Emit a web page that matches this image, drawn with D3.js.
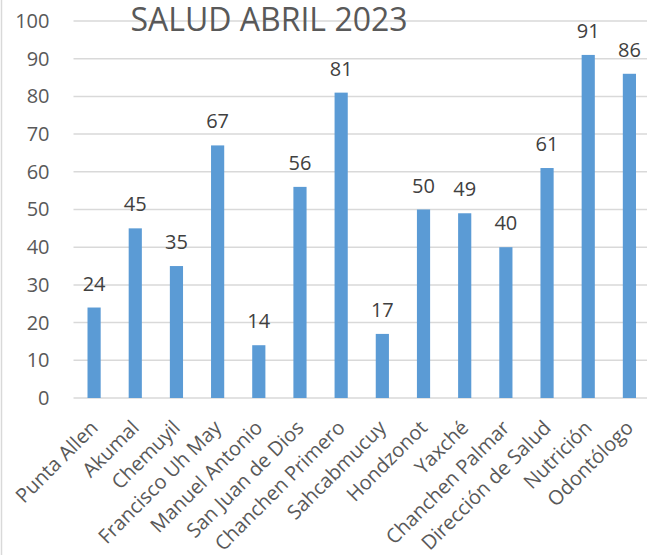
<!DOCTYPE html>
<html>
<head>
<meta charset="utf-8">
<script src="https://cdn.jsdelivr.net/npm/d3@7"></script>
<style>
  body { margin: 0; background: #fff; }
  text { font-family: "Open Sans", sans-serif; }
</style>
</head>
<body>
<div id="chart"></div>
<script>
"use strict";
const categories = ["Punta Allen", "Akumal", "Chemuyil", "Francisco Uh May", "Manuel Antonio",
  "San Juan de Dios", "Chanchen Primero", "Sahcabmucuy", "Hondzonot", "Yaxché",
  "Chanchen Palmar", "Dirección de Salud", "Nutrición", "Odontólogo"];
const values = [24, 45, 35, 67, 14, 56, 81, 17, 50, 49, 40, 61, 91, 86];
const yTicks = [0, 10, 20, 30, 40, 50, 60, 70, 80, 90, 100];
const title = "SALUD ABRIL 2023";

const width = 647, height = 555;
const margin = {top: 21, right: -3, bottom: 157, left: 73.5};
const font = "'Open Sans', sans-serif";

const svg = d3.select("#chart").append("svg")
  .attr("width", width).attr("height", height);

// borde izquierdo del gráfico
svg.append("line")
  .attr("x1", 1.5).attr("x2", 1.5).attr("y1", 0).attr("y2", height)
  .attr("stroke", "#d9d9d9").attr("stroke-width", 1.5);

const x = d3.scaleBand()
  .domain(categories)
  .range([margin.left, width - margin.right])
  .paddingInner(0.68)
  .paddingOuter(0.34);

const y = d3.scaleLinear()
  .domain([0, 100])
  .range([height - margin.bottom, margin.top]);

// líneas de cuadrícula
svg.append("g").selectAll("line").data(yTicks).join("line")
  .attr("x1", margin.left).attr("x2", width)
  .attr("y1", d => y(d)).attr("y2", d => y(d))
  .attr("stroke", "#d9d9d9").attr("stroke-width", 1.5);

// eje y
const yAxis = svg.append("g")
  .attr("transform", `translate(${margin.left},0)`)
  .call(d3.axisLeft(y).tickValues(yTicks).tickSize(0).tickPadding(24));
yAxis.select(".domain").remove();
yAxis.selectAll("text")
  .attr("fill", "#595959").attr("font-size", "20px")
  .attr("font-family", font);

// título
svg.append("text")
  .attr("x", 269).attr("y", 31)
  .attr("text-anchor", "middle")
  .attr("fill", "#595959").attr("font-size", "32px")
  .text(title);

// barras
svg.append("g").selectAll("rect").data(values).join("rect")
  .attr("x", (d, i) => x(categories[i]))
  .attr("y", d => y(d))
  .attr("width", x.bandwidth())
  .attr("height", d => y(0) - y(d))
  .attr("fill", "#5b9bd5");

// etiquetas de datos
svg.append("g").selectAll("text").data(values).join("text")
  .attr("x", (d, i) => x(categories[i]) + x.bandwidth() / 2)
  .attr("y", d => y(d) - 17)
  .attr("text-anchor", "middle")
  .attr("fill", "#404040").attr("font-size", "20px")
  .text(d => d);

// eje x
const xAxis = svg.append("g")
  .attr("transform", `translate(0,${y(0)})`)
  .call(d3.axisBottom(x).tickSize(0).tickPadding(0));
xAxis.select(".domain").remove();
xAxis.selectAll("text")
  .attr("fill", "#595959").attr("font-size", "20px")
  .attr("font-family", font)
  .attr("text-anchor", "end")
  .attr("dy", null)
  .attr("transform", "translate(5,31) rotate(-45)");
</script>
</body>
</html>
